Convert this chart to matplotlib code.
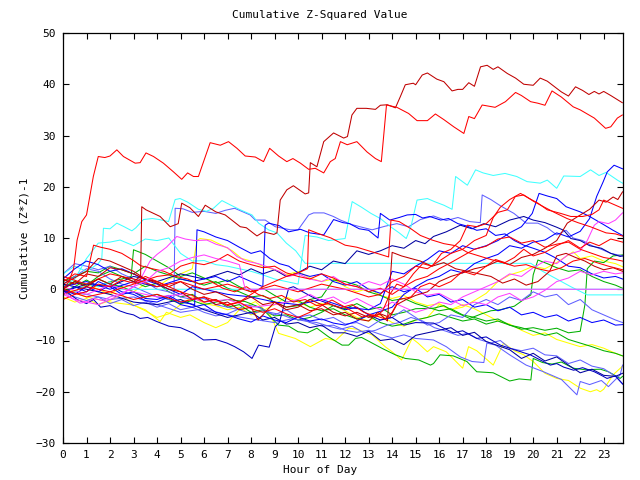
import matplotlib
matplotlib.use("Agg")
import matplotlib.pyplot as plt

# ---------------- data (hour of day, cumulative value) ----------------
h_r1 = [0, 0.25, 0.45, 0.6, 0.8, 1.0, 1.29, 1.5, 1.78, 2.0, 2.29, 2.57, 3.07, 3.28, 3.53, 3.85, 4.27, 4.7, 5.05, 5.3, 5.55, 5.76, 6.26, 6.69, 7.04, 7.4, 7.75, 8.18, 8.53, 8.79, 9.17, 9.52, 9.78, 10.1, 10.45, 10.73, 11.09, 11.37, 11.58, 11.8, 12.09, 12.5, 12.93, 13.29, 13.54, 13.76, 14.2, 14.7, 15.06, 15.5, 15.84, 16.2, 16.62, 17.05, 17.26, 17.5, 17.83, 18.38, 18.82, 19.25, 19.5, 19.89, 20.2, 20.5, 20.8, 21.2, 21.7, 22.0, 22.6, 23.08, 23.3, 23.58, 23.79]
v_r1 = [0, 1.5, 4, 9.6, 13.2, 14.5, 22, 25.9, 25.7, 26, 27.2, 25.9, 24.6, 24.7, 26.6, 25.9, 24.6, 22.9, 21.45, 22.7, 22, 22, 28.6, 28.1, 28.8, 27.5, 26, 25.8, 24.9, 27.5, 26, 24.9, 25.5, 24.6, 23.4, 23.6, 22.7, 24.9, 25.5, 28.8, 28.2, 28.8, 26.8, 25.5, 24.9, 35.95, 35.5, 34.3, 32.9, 32.9, 34.2, 33.1, 31.7, 30.4, 33.7, 33.3, 35.95, 35.5, 36.6, 38.4, 37.8, 36.6, 36.3, 35.9, 38.7, 37.5, 35.6, 35, 33.4, 31.4, 31.7, 33.4, 34]

h_d1 = [0, 0.5, 1, 1.5, 2, 2.5, 3.0, 3.3, 3.35, 3.53, 4.13, 4.56, 4.9, 5.05, 5.4, 5.76, 6.05, 6.5, 6.9, 7.54, 7.8, 8.25, 8.53, 8.97, 9.1, 9.24, 9.52, 9.8, 10.3, 10.45, 10.52, 10.8, 11.09, 11.51, 11.94, 12.1, 12.29, 12.5, 12.9, 13.29, 13.5, 13.8, 14.14, 14.35, 14.56, 14.9, 15.0, 15.28, 15.5, 15.9, 16.2, 16.55, 16.8, 17.0, 17.26, 17.5, 17.76, 18.04, 18.3, 18.5, 18.9, 19.25, 19.6, 20.0, 20.3, 20.6, 20.97, 21.2, 21.5, 21.8, 22.1, 22.37, 22.6, 22.8, 23.0, 23.3, 23.58, 23.79]
v_d1 = [0, 1.5, 0.5, 2, 1, 2.5, 1.5, 2.5, 16.1, 15.5, 14.2, 12.2, 12.8, 16.8, 15.9, 14.2, 16.4, 15.1, 14.5, 12.2, 12, 10.4, 11.2, 10.7, 11, 17.4, 19.4, 20.2, 18.6, 18.8, 24.7, 23.9, 28.8, 30.5, 29.5, 29.8, 34, 35.3, 35.3, 35.1, 35.9, 36, 35.4, 37.6, 39.9, 40.2, 39.9, 41.8, 42.2, 41, 40.5, 38.7, 39, 39, 40.3, 39.6, 43.4, 43.7, 42.9, 43.4, 42.1, 41.2, 40, 39.8, 41.2, 40.6, 39.3, 38.5, 37.7, 39.5, 38.8, 38, 38.6, 38.1, 38.6, 37.8, 37, 36.4]

h_c1 = [0, 0.5, 1.0, 1.5, 1.65, 1.72, 2.0, 2.29, 2.6, 2.93, 3.1, 3.42, 3.8, 4.1, 4.49, 4.77, 4.98, 5.3, 5.76, 6.1, 6.4, 6.76, 7.1, 7.54, 8.04, 8.32, 8.74, 9.1, 9.5, 9.9, 10.3, 19.9, 20.4, 21.0, 21.6, 22.3, 23.8]
v_c1 = [3, 4.5, 3.5, 5, 6, 11.9, 11.8, 12.9, 12.2, 11.4, 12, 13.6, 13.8, 13.6, 13.2, 17.5, 17.7, 17, 15.6, 15.2, 15.8, 17.3, 16.5, 15.5, 14.5, 12.9, 11.6, 11.0, 9, 7.5, 5.06, 5.06, 3.5, 2, 0.5, -1.1, -1.1]

h_c2 = [0, 0.5, 1.0, 1.5, 2.0, 2.43, 3.0, 3.5, 4.0, 4.5, 5.0, 5.5, 6.0, 6.5, 7.0, 7.5, 8.0, 8.5, 9.0, 9.5, 10.0, 10.3, 10.8, 11.3, 12.0, 12.3, 12.7, 13.1, 13.5, 13.93, 14.3, 14.6, 14.8, 15.06, 15.5, 15.8, 16.2, 16.55, 16.7, 17.2, 17.55, 17.87, 18.3, 18.8, 19.3, 19.74, 20.3, 20.6, 21.0, 21.3, 22.0, 22.44, 22.8, 23.1, 23.58, 23.8]
v_c2 = [0.5, 2, 6, 9, 9.2, 9.6, 8.5, 9.8, 9.5, 10, 7, 5.5, 5.6, 4.8, 4.5, 4, 3.5, 2.8, 2, 1.5, 1, 10.5, 10.2, 9.5, 9.9, 17.1, 16, 14.8, 13.8, 12.2, 11, 9.9, 12.2, 17.4, 17.7, 17.1, 16.4, 15.6, 22, 20.3, 23.3, 22.7, 22.2, 22.6, 22, 21, 20.7, 21.3, 19.7, 22.1, 22, 23.3, 22.2, 22.8, 21.3, 20.7]

h_c3 = [0, 0.5, 1.0, 1.5, 2.0, 2.29, 23.8]
v_c3 = [-1, -0.5, 1, 0.5, 1.5, 0, 0]

h_m1 = [0, 0.3, 0.72, 1.0, 1.3, 1.7, 2.0, 2.5, 3.0, 3.5, 4.0, 4.5, 5.0, 5.5, 6.0, 6.5, 7.0, 7.5, 7.75, 23.8]
v_m1 = [-0.5, -1.5, -2.7, -2.5, -1.8, -2.2, -1.5, -0.8, 0.5, 1.5, 3.5, 4.2, 5.5, 6.2, 6.7, 6.0, 5.5, 4.8, 0, 0]

h_lb1 = [0, 0.5, 1.0, 1.5, 2.0, 2.5, 3.0, 3.5, 4.0, 4.5, 4.72, 4.77, 5.1, 5.5, 6.0, 6.5, 6.9, 7.3, 7.96, 8.18, 8.6, 9.03, 9.67, 10.0, 10.45, 10.66, 11.1, 11.5, 11.8, 12.3, 12.8, 13.15, 13.7, 14.2, 14.7, 15.2, 15.76, 16.3, 16.8, 17.3, 17.75, 17.83, 18.2, 18.6, 19.18, 19.7, 20.2, 20.6, 21.0, 21.4, 21.7, 22.1, 22.5, 22.9, 23.3, 23.8]
v_lb1 = [1, 2.5, 4, 3.5, 2, 1, 0.5, -0.5, -1.5, -2, -1.5, 15.8, 15.7, 15, 15.2, 14.8, 15.4, 15.8, 14.5, 13.5, 13.5, 12.2, 11.6, 11.6, 14.5, 14.9, 14.9, 14.2, 13.5, 12.6, 12, 11.6, 12.3, 12.8, 12.2, 13.6, 14.3, 13.4, 14.0, 13.2, 13.0, 18.4, 17.5, 16.3, 14.8, 12.9, 12.9, 12, 10.6, 11.5, 10, 9.5, 8.5, 7.8, 7, 6.5]

h_db1 = [0, 0.3, 0.6, 1.0, 1.3, 1.6, 2.0, 2.4, 2.71, 3.0, 3.28, 3.6, 3.99, 4.5, 5.0, 5.55, 5.98, 6.5, 6.97, 7.3, 7.68, 7.96, 8.04, 8.32, 8.77, 9.03, 9.2, 9.6, 9.8, 10.2, 10.6, 11.0, 11.4, 12.0, 12.5, 13.0, 13.5, 14.0, 14.5, 15.0, 15.76, 16.2, 16.6, 17.0, 17.6, 18.0, 18.6, 19.2, 19.88, 20.3, 20.73, 21.0, 21.3, 21.72, 22.1, 22.6, 22.9, 23.14, 23.5, 23.85]
v_db1 = [0, -1, -2, -2.8, -2, -3.5, -3.2, -4.2, -4.7, -5.0, -5.7, -5.5, -6.3, -7.2, -7.5, -8.6, -9.9, -9.8, -10.5, -11.2, -12.2, -13.2, -13.5, -10.9, -11.3, -7.3, -6.5, 0.2, 0.5, -0.5, -1.5, -2.3, -3, -4, -3.5, -5, -6, -5.5, -7, -6.5, -6.6, -7.6, -8.5, -8.1, -9.6, -9.3, -10.9, -11.8, -12.8, -13.8, -14.8, -14.5, -15.2, -15.8, -15.3, -16.1, -16.8, -17.4, -16.9, -18.7]

h_y1 = [0, 1, 2, 3, 3.5, 4.13, 4.4, 5.0, 5.4, 6, 6.5, 7, 7.5, 8.18, 8.82, 9.17, 9.88, 10.52, 11.16, 11.6, 12.15, 12.5, 13.15, 13.7, 14.0, 14.4, 14.85, 15.1, 15.5, 15.76, 16.3, 17.0, 17.25, 17.6, 18.3, 18.74, 19.2, 19.6, 20.0, 20.5, 21.0, 21.5, 22.0, 22.43, 22.7, 22.85, 23.0, 23.4, 23.8]
v_y1 = [0, -1.5, -2.5, -3.1, -4, -6.3, -4.5, -5.5, -5.0, -6.5, -7.5, -6.5, -4, -2.4, -5, -8.6, -9.6, -11.2, -9.6, -10, -7.6, -7.8, -8.9, -11.2, -12.2, -13.8, -9.6, -10.5, -12.2, -11.2, -12.2, -15.4, -11.2, -12, -14.8, -10.5, -12, -12.8, -14.1, -16.4, -17.4, -17.8, -19.3, -20, -19.6, -20, -19.5, -16.7, -15]

h_g1 = [0, 0.5, 1.0, 1.5, 2.0, 2.5, 3.0, 3.5, 4, 4.5, 5, 5.5, 6, 6.5, 7, 7.75, 8.46, 9.17, 9.6, 10.0, 10.4, 10.8, 11.3, 11.87, 12.15, 12.44, 12.7, 13.15, 13.6, 14.14, 14.56, 15.13, 15.63, 15.76, 16.04, 16.6, 17.18, 17.6, 18.3, 19.0, 19.4, 19.9, 20.0, 20.4, 20.8, 21.2, 21.7, 22.2, 22.86, 23.2, 23.7, 23.8]
v_g1 = [0.5, 1.5, 0.8, 2, 1, 0.5, -0.5, -1.5, -1, -2, -2.8, -2.2, -3, -2.5, -2, -2.4, -3.7, -7, -7.2, -8.3, -8.5, -7.6, -9.3, -10.9, -10.9, -9.6, -9.4, -10.5, -11.6, -12.8, -13.5, -13.8, -14.8, -14.5, -12.8, -13.0, -14.1, -16.1, -16.3, -17.9, -17.5, -17.7, -13.5, -14.3, -14.6, -14.2, -15.4, -15.7, -15.6, -16.1, -17.4, -17.0]

h_lb2 = [0, 1, 2, 3, 4, 5, 6, 7, 8, 9, 10, 10.5, 11, 11.5, 12, 12.5, 13, 13.5, 14, 14.5, 15.0, 15.76, 16.3, 16.9, 17.4, 17.9, 18.03, 18.4, 19.0, 19.7, 20.44, 21.2, 21.86, 22.0, 22.4, 22.9, 23.2, 23.7, 23.8]
v_lb2 = [-0.5, -1, -2, -1.5, -3, -4.5, -3.8, -5, -5.8, -6.5, -5.5, -6.5, -7.2, -7.0, -8, -8.4, -8, -8.8, -9.5, -8.9, -9.6, -9.9, -11.2, -13.2, -14.1, -14.3, -10.5, -10.9, -12.8, -14.8, -16.1, -17.6, -20.6, -18, -18.6, -17.8, -19, -16.7, -14.8]

h_db2 = [0, 1, 2, 3, 4, 5, 6, 7, 8, 8.5, 9, 9.5, 10, 10.5, 11, 11.5, 12, 12.5, 13.0, 13.5, 14, 14.5, 15, 15.5, 16, 16.5, 17, 17.5, 18, 18.5, 19, 19.5, 20, 20.5, 21, 21.5, 22, 22.5, 23, 23.5, 23.8]
v_db2 = [1, 0, -1, -2.5, -3, -2, -4, -5.5, -4.5, -6, -5.5, -6.8, -6.5, -7.5, -7, -8.5, -8.5, -9.2, -8.2, -10, -9.7, -10.8, -9, -8.5, -8, -7.5, -9, -8.4, -10.2, -11, -11.8, -13.5, -12.5, -14, -13.2, -14.8, -16.3, -15.6, -16.8, -17, -16.4]

h_lb3 = [0, 0.5, 1, 1.5, 2, 2.5, 3, 3.5, 4, 4.5, 5, 5.5, 6, 6.5, 7, 7.5, 8, 8.5, 9, 9.5, 10, 10.5, 11, 11.5, 12, 12.5, 13, 13.5, 14, 14.5, 15, 15.5, 16, 16.5, 17, 17.5, 18, 18.5, 19, 19.5, 20, 20.5, 21, 21.5, 22, 22.5, 23, 23.5, 23.8]
v_lb3 = [3, 5, 4.5, 3.8, 4.5, 3, 2, 1.5, 0, -0.5, -1.5, -2, -1.8, -3, -3.5, -4, -4.8, -4.2, -5, -4, -5.5, -5, -6, -5.5, -6.8, -6.5, -7.5, -6, -5.5, -4, -5.5, -7, -6.5, -5, -5.5, -3, -2, -3, -1.5, -2.2, -0.5, -1.5, -1, -3, -2, -4, -5, -6, -6.5]

h_b1 = [0, 0.5, 1, 1.5, 2, 2.5, 3, 3.5, 4, 4.5, 5, 5.5, 6, 6.5, 7, 7.5, 8, 8.5, 9, 9.5, 10, 10.5, 11, 11.5, 12, 12.5, 13, 13.5, 14, 14.5, 15, 15.5, 16, 16.5, 17, 17.5, 18, 18.5, 19, 19.5, 20, 20.5, 21, 21.5, 22.0, 22.4, 22.7, 22.97, 23.15, 23.44, 23.8]
v_b1 = [0, -1, 0.5, -0.5, 0.8, -0.5, -1, -2.2, -2.5, -1.5, -3, -3.5, -3, -4.5, -5, -5.8, -6.4, -5.2, -6, -6.5, -5.4, -6.2, -5.8, -6.6, -7, -6.2, -5, -4.3, -3.5, -1, 0.5, 1.8, 2.5, 3.8, 3.2, 5, 6, 6.8, 8.5, 8, 9.2, 9.6, 11.0, 10.2, 11.3, 13.8, 18.1, 20.9, 22.9, 24.2, 23.5]

h_b2 = [0, 0.5, 1.0, 1.5, 2.0, 2.5, 3, 3.5, 4.0, 4.5, 5.0, 5.5, 6, 7, 8, 9, 10, 11, 12, 13, 13.5, 14, 14.5, 15, 15.5, 16, 16.5, 17, 17.5, 18, 18.5, 19, 19.5, 19.96, 20.25, 20.6, 21.0, 21.4, 22.0, 22.4, 23.0, 23.4, 23.8]
v_b2 = [2, 4, 5.5, 4.8, 3.5, 4, 3, 1.8, 1, 0, -1, 0.5, 0, -1, -1.5, -2.5, -3, -2, -3.5, -4, -2.8, 3.5, 3, 4.5, 5.8, 7.5, 7, 8.5, 7.8, 8.5, 9.5, 11, 12.2, 14.8, 18.7, 18.2, 17.7, 16.1, 15.1, 14.2, 12.6, 11.5, 10.5]

h_b3 = [0, 0.5, 1, 1.5, 2, 2.5, 3, 3.5, 4, 4.5, 5, 5.6, 5.7, 6.0, 6.5, 7.0, 7.5, 8.0, 8.4, 8.8, 9.2, 9.6, 10.0, 10.5, 11.0, 11.5, 12.0, 12.5, 13.0, 13.5, 14, 14.5, 15, 15.5, 16, 16.5, 17, 17.5, 18, 18.5, 19, 19.5, 20, 20.5, 21, 21.5, 22, 22.5, 23, 23.5, 23.8]
v_b3 = [-1, 0.5, -0.5, 1.5, 0.5, -1, -0.5, -1.8, -2, -1.2, -2.5, -3, 11.6, 11.2, 10.2, 9.5, 8.2, 7, 7.5, 6, 5, 4.5, 3.2, 2.5, 3, 1.5, 0.8, 1.5, 0, -0.8, 0.5, -0.5, 0.2, -1.5, -1, -2.5, -2, -3.5, -3, -4.2, -3.5, -5, -4.5, -5.5, -5, -6.2, -5.5, -6.5, -6, -7, -6.9]

h_b4 = [0, 1, 2, 3, 4, 5, 5.5, 6.5, 7, 7.5, 8.0, 8.5, 8.6, 8.74, 9.2, 9.6, 10.1, 10.5, 11.09, 11.51, 11.9, 12.19, 12.6, 13.0, 13.4, 13.5, 13.9, 14.3, 14.64, 15.0, 15.3, 15.6, 16.06, 16.4, 16.8, 17.2, 17.6, 18.0, 18.4, 18.8, 19.2, 19.6, 20.0, 20.5, 21.0, 21.5, 22.0, 22.5, 23.0, 23.5, 23.8]
v_b4 = [0.5, 1.5, 0, 1.5, 0.5, 2, 1.5, 2.5, 1.5, 2.5, 1.5, 0.5, 12.5, 12.9, 12.4, 11.2, 11.7, 11.0, 10.6, 13.6, 13.0, 12.8, 11.8, 11.5, 10, 14.8, 13.5, 14.0, 14.5, 14.6, 13.9, 14.2, 13.5, 13.8, 12.8, 12.3, 11.5, 11.8, 10.5, 10.8, 9.5, 8.6, 8.0, 7.2, 6.0, 4.5, 4.2, 3, 2.2, 2.5, 2.0]

h_db3 = [0, 1, 2, 3, 4, 5, 6, 7, 7.5, 8, 8.5, 9, 9.5, 10, 10.5, 11, 11.5, 12, 12.5, 13, 13.5, 14, 14.5, 15.0, 15.4, 15.76, 16.3, 16.9, 17.4, 17.9, 18.4, 19.0, 19.6, 20.0, 20.5, 21.0, 21.3, 21.6, 22.0, 22.4, 22.9, 23.3, 23.7, 23.8]
v_db3 = [-0.5, 1, 0.5, 2.5, 1.5, 3, 2, 3.5, 2.8, 4, 3, 3.8, 2.5, 3.2, 4.5, 3.8, 5.5, 5, 7.5, 6.8, 7.5, 8.5, 8, 9.5, 8.9, 10.3, 11.2, 12.5, 11.8, 12.8, 12.2, 13.5, 14.2, 13.5, 13.0, 12.1, 11.5, 9.9, 9.5, 8.5, 8.0, 7.0, 6.4, 6.5]

h_r2 = [0, 0.5, 1.0, 1.3, 1.6, 2.0, 2.5, 3.0, 3.3, 3.8, 4.3, 4.8, 5.3, 5.8, 6.3, 6.8, 7.3, 7.8, 8.3, 8.8, 9.3, 9.8, 10.3, 10.8, 11.3, 11.8, 12.3, 12.8, 13.3, 13.6, 13.9, 14.2, 14.5, 14.9, 15.3, 15.7, 16.1, 16.5, 16.9, 17.2, 17.6, 18.0, 18.5, 18.9, 19.24, 19.6, 20.0, 20.44, 20.9, 21.44, 21.9, 22.43, 23.1, 23.5, 23.85]
v_r2 = [1.5, 3.0, 2.5, 8.6, 8.2, 7.8, 7, 5.6, 4.6, 4.0, 3.5, 2.5, 2.0, 1, 1.5, 0.2, -0.5, 0.5, -1, -1.8, -1.2, -2.5, -2, -3.2, -2.8, -3.6, -3, -4.5, -5.3, -4.2, -1, 1, 0.5, 3, 5.0, 4.5, 7.0, 7.8, 9.5, 12.5, 12.2, 12.8, 15, 15.5, 18.1, 18.4, 17.2, 16.1, 15.0, 13.8, 13, 12.2, 11.0, 10.8, 10.3]

h_r3 = [0, 1, 2, 3, 4, 5, 6, 7, 8, 9, 10, 11, 12, 13, 13.5, 14, 14.5, 15, 15.5, 16, 16.5, 17.0, 17.5, 18.0, 18.3, 18.6, 19.0, 19.46, 19.8, 20.2, 20.6, 21.17, 21.6, 22.1, 22.5, 22.8, 23.0, 23.4, 23.8]
v_r3 = [2.5, 1, 3, 2, 0.5, 1.5, 0, 1, -0.5, 0.8, -0.5, 1, 0, -1.5, -1, 1.5, 2.5, 4.5, 4, 5.5, 7.0, 7.8, 9.5, 10.5, 14, 16, 17.5, 18.7, 17.8, 16.8, 15.5, 14.8, 14.2, 14.2, 14.6, 15.5, 17.4, 16.6, 15.8]

h_d2 = [0, 1, 1.5, 2, 2.5, 3, 3.5, 4, 4.5, 5, 5.5, 6, 6.5, 7, 7.5, 8, 8.5, 9, 9.5, 10, 10.5, 11, 11.5, 12, 12.5, 13, 13.5, 13.9, 14.2, 14.6, 15.0, 15.5, 16.0, 16.5, 17.0, 17.5, 18.0, 18.5, 19.0, 19.5, 20.0, 20.5, 21.0, 21.45, 21.9, 22.4, 22.8, 23.1, 23.4, 23.6, 23.8]
v_d2 = [1, 3.5, 6, 5.5, 4.5, 3.5, 2, 1.5, 0.5, 1.5, 0, -1, -0.5, -1.5, -2.5, -1.5, -3, -2.5, -4, -3.5, -2, -3, -4.5, -5.2, -4.5, -5.5, -4.8, -5.5, -3, -2, -1.2, -0.5, 1.5, 2.5, 3.2, 4.0, 4.5, 5.5, 4.8, 6.2, 6.8, 8.0, 9.5, 12.9, 14.2, 15.6, 17.4, 17, 18, 17.5, 19]

h_r4 = [0, 1, 2, 3, 4, 4.5, 5, 5.5, 6, 6.5, 7, 7.5, 8, 8.5, 9, 9.5, 10, 10.5, 11, 11.5, 12, 12.5, 13, 13.5, 14, 14.5, 15, 15.5, 16, 16.5, 17, 17.5, 18, 18.5, 19, 19.5, 20, 20.5, 21, 21.5, 22, 22.5, 23, 23.5, 23.8]
v_r4 = [-1, 0.5, -0.5, 1.0, 2.5, 2.8, 4.5, 5.2, 4.8, 5.5, 6.8, 5.5, 4.8, 4.2, 4.5, 3.2, 2.5, 2.0, 3.0, 2.2, 1, 0.5, -0.5, 0.2, -1, 0.5, 1.8, 2.5, 4, 5.2, 6.5, 7.8, 8.4, 9.8, 10.2, 9, 9.5, 8.2, 8.8, 9.2, 7.8, 7, 6.2, 5.8, 5.5]

h_r5 = [0, 1, 2, 3, 4, 5, 6, 7, 7.5, 8, 8.5, 9, 9.5, 10, 10.4, 10.45, 10.9, 11.4, 12.0, 12.5, 13.0, 13.57, 13.85, 13.95, 14.3, 14.8, 15.2, 15.7, 16.2, 16.7, 17.2, 17.7, 18.2, 18.7, 19.2, 19.7, 20.2, 20.7, 21.2, 21.7, 22.2, 22.7, 23.2, 23.8]
v_r5 = [0, -1.5, -0.5, -2, -1, -2.5, -1.5, -3, -2.5, -1, 0.5, 1.5, 2.5, 3.2, 4, 11.6, 10.8, 10, 8.6, 8.2, 7.5, 6.7, 6.3, 13.5, 13.2, 11.8, 10.5, 9.6, 8.9, 8.5, 7.2, 6.5, 5.8, 5.2, 4.5, 4.8, 4.0, 3.5, 4.2, 5.5, 6.0, 5.2, 4.5, 3.8]

h_m2 = [0, 0.5, 1, 1.5, 2, 2.5, 3, 3.3, 3.7, 4.0, 4.4, 4.84, 5.2, 5.6, 6.12, 6.5, 7.0, 7.4, 7.8, 8.3, 8.8, 9.2, 9.6, 10.0, 10.5, 11.0, 11.5, 12.0, 12.5, 13.0, 13.5, 14.0, 14.5, 15.0, 15.5, 16.0, 16.5, 17.0, 17.5, 18.0, 18.5, 19.0, 19.5, 20.0, 20.5, 21.0, 21.5, 22.0, 22.5, 23.0, 23.5, 23.8]
v_m2 = [-1, -2, -2.5, -3, -2, -1, 0.5, 2, 5.5, 6.8, 8.2, 10.3, 9.8, 9.5, 9.6, 8.8, 8.1, 6.4, 5.5, 5.0, 4.2, 3.5, 2.5, 3.0, 2.0, 1.5, 2.5, 1.0, 0.5, 1.5, 0.8, 2.0, 1.0, -0.5, -1.2, -0.8, -2.0, -3.2, -2.5, -3.0, -1.5, -0.8, -2.2, -1.5, -0.2, 1.5, 2.2, 3.5, 2.8, 3.5, 3.0, 3.2]

h_m3 = [0, 1, 2, 3, 4, 5, 6, 7, 8, 9, 10, 10.5, 11, 11.5, 12, 12.5, 13, 13.5, 14, 14.5, 15, 15.5, 16, 16.5, 17, 17.5, 18.0, 18.5, 19.0, 19.5, 20.0, 20.5, 21.0, 21.5, 22.0, 22.3, 22.6, 22.8, 23.2, 23.5, 23.8]
v_m3 = [0.5, -1, 0.8, -0.5, -1.5, -1, -2.5, -2, -3.5, -3, -2, -1, -2.2, -1.5, -2.8, -1.8, -3, -4, -2.5, -3.5, -4.5, -3.8, -2.5, -3, -1.5, -0.5, 0.5, 1.5, 3, 2.5, 4.2, 5.5, 5.0, 6.8, 7.5, 9.5, 12.5, 13.2, 12.8, 13.5, 14.9]

h_g2 = [0, 0.5, 1, 1.5, 2, 2.5, 3, 3.5, 4, 4.5, 5, 5.5, 6, 6.5, 7, 7.5, 8, 8.5, 9, 9.5, 10, 10.5, 11, 11.5, 12, 12.5, 13, 13.5, 14, 14.5, 15, 15.76, 16.2, 16.7, 17.3, 17.8, 18.2, 18.6, 19.2, 19.6, 19.9, 20.0, 20.2, 20.6, 21.0, 21.5, 22.0, 22.5, 23.0, 23.5, 23.8]
v_g2 = [0, 1.5, 0.8, 2.5, 3.5, 2.5, 1.5, 0.5, 1.2, -0.5, -1.5, -1, -2.5, -2, -3.5, -3, -4.5, -4, -5.2, -5, -6, -5.5, -4.5, -3.2, -3.8, -2.8, -4, -3.5, -5, -4.5, -3.8, -3.7, -3.2, -4.5, -5.7, -4.8, -4.2, -4.0, -3.3, -2.0, -1.1, 2.8, 5.7, 5.0, 4.2, 3.5, 3.8, 2.5, 1.5, 0.8, 0.2]

h_g3 = [0, 0.5, 1, 1.5, 2, 2.5, 2.9, 3.0, 3.5, 4.0, 4.5, 5.0, 5.5, 6.0, 6.5, 7.0, 7.5, 8.0, 8.5, 9.0, 9.5, 10.0, 10.5, 11.0, 11.5, 12.0, 12.5, 13.0, 13.5, 14.0, 14.5, 15.0, 15.5, 16.0, 16.5, 17.0, 17.5, 18.0, 18.5, 19.0, 19.5, 20.0, 20.5, 21.0, 21.5, 22.0, 22.2, 22.3, 22.6, 23.0, 23.4, 23.8]
v_g3 = [-0.5, 0.5, 1.8, 0.5, 1.5, 2.0, 2.5, 7.7, 6.8, 5.5, 4.2, 2.5, 3.2, 2.2, 1.2, 1.8, 0.5, -0.5, 0.2, -1.2, -2.5, -2.2, -3.5, -4.2, -3.8, -5, -5.8, -5.2, -6.5, -7.2, -6.8, -6.0, -5.5, -4.8, -5.5, -6.2, -5.8, -6.8, -6.2, -7.0, -7.8, -7.5, -8, -7.6, -8.5, -8.2, -3, 4, 5.5, 5.2, 6.5, 6.7]

h_g4 = [0, 0.5, 1, 1.5, 2, 2.5, 3, 3.5, 4, 4.5, 5, 5.5, 6, 6.5, 7, 7.5, 8, 8.5, 9, 9.5, 10, 10.5, 11, 11.5, 12, 12.5, 13, 13.5, 14, 14.5, 15, 15.5, 16, 16.5, 17, 17.5, 18, 18.5, 19, 19.5, 20, 20.5, 21, 21.5, 22, 22.5, 23, 23.5, 23.8]
v_g4 = [1.5, 2.5, 3.5, 3.2, 4.5, 3.8, 3, 4.5, 3.5, 2.8, 2, 1.5, 0.8, 1.5, 0.2, -0.5, -1.5, -1.2, -2.5, -3.5, -3.2, -2, -1.5, 1.8, 1.5, 0.8, -0.5, -1.2, -2.2, -1.8, -2.8, -3.5, -4.2, -3.8, -5, -5.5, -6.2, -5.8, -7, -7.5, -8.2, -9, -8.5, -9.8, -10.5, -11.2, -12, -12.5, -13]

h_y2 = [0, 0.5, 1, 1.5, 2, 2.5, 3, 3.5, 4, 4.5, 5.0, 5.5, 5.7, 5.83, 6.3, 6.8, 7.2, 7.6, 8.0, 8.5, 9, 9.5, 10, 10.5, 11, 11.5, 12, 12.5, 13, 13.5, 14, 14.5, 15, 15.5, 16, 16.5, 17, 17.5, 18, 18.5, 19, 19.5, 20, 20.5, 21, 21.7, 22, 22.5, 23, 23.5, 23.8]
v_y2 = [0.5, -0.5, 1.0, 0, -1, 0.5, -0.5, 1, 0.5, 2, 3, 4, 9.5, 9.9, 9.6, 8.5, 7.5, 6.0, 5.5, 4.5, 3.8, 2.8, 3.5, 2.2, 1.5, 2.0, 0.5, -0.5, 0.2, -1.2, -1.8, -1.2, -2.5, -3.2, -2.8, -4, -3.5, -2.2, -0.8, 1.5, 2.8, 3.5, 4.5, 4.0, 5.2, 7.3, 6.0, 6.5, 5.5, 5.0, 4.4]

h_y3 = [0, 0.5, 1, 1.5, 2, 2.5, 3, 3.5, 4, 4.5, 5, 5.5, 6, 6.5, 7, 7.5, 8, 8.5, 9, 9.5, 10, 10.5, 11, 11.5, 12, 12.5, 13, 13.5, 14, 14.5, 15, 15.5, 16, 16.5, 17, 17.5, 18, 18.5, 19, 19.5, 20, 20.5, 21, 21.5, 22, 22.5, 23, 23.5, 23.8]
v_y3 = [-1.5, -2.5, -1.8, -3, -2.2, -1, -3.1, -4.2, -5.5, -4.8, -3, -1.5, -2.8, -3.2, -4.0, -3.5, -5, -4.2, -3, -1.5, -2.5, -3.5, -2.8, -3.2, -4.2, -5.5, -6.2, -5, -6.5, -7.2, -6, -5.5, -3, -4, -3, -3.8, -5, -6.2, -6.8, -8, -9, -8.5, -9.8, -10.5, -11.2, -10.8, -11.5, -12.5, -13]

h_d3 = [0, 0.5, 1, 1.5, 2, 2.5, 3, 3.5, 4, 4.5, 5, 5.5, 6, 6.5, 7, 7.5, 8, 8.3, 8.6, 9, 9.5, 10, 10.5, 11, 11.5, 12, 12.5, 13, 13.4, 13.8, 14.0, 14.4, 14.8, 15.2, 15.7, 16.2, 16.7, 17.2, 17.7, 18.2, 18.7, 19.2, 19.7, 20.2, 20.7, 21.0, 21.4, 21.8, 22.2, 22.6, 23.0, 23.4, 23.8]
v_d3 = [2, 1, 3, 2.5, 4.2, 3.8, 3, 2, 1.2, 0, -0.5, -2, -1.5, -3, -2.5, -4, -3.5, -6, -4.5, -2.5, -3.5, -3, -4.2, -3.8, -5, -4.5, -5.8, -6.2, -4.5, -6.2, 7.2, 6.5, 6.0, 5.5, 4.5, 5.2, 4.0, 3.5, 3.0, 2.5, 1.2, 2.0, 0.8, 1.5, 3.5, 6.5, 7.0, 6.2, 5.5, 4.5, 3.8, 4.2, 3.5]

h_r6 = [0, 0.5, 1, 1.5, 2, 2.5, 3, 3.5, 4, 4.5, 5, 5.5, 6, 6.5, 7, 7.5, 8, 8.5, 9, 9.5, 10, 10.5, 11, 11.44, 12, 12.72, 13.2, 13.7, 14.0, 14.3, 14.8, 15.2, 15.6, 16.0, 16.5, 17.0, 17.5, 18.0, 18.4, 18.8, 19.2, 19.6, 20.0, 20.5, 21.0, 21.5, 22.0, 22.4, 22.8, 23.3, 23.8]
v_r6 = [-2, -1, -0.5, 1, 0.5, 1.8, 1.2, 2.5, 1.5, 0.5, -0.5, -1.2, -2.5, -2, -3.2, -2.5, -3.8, -4.5, -3.8, -4.8, -5.5, -4.5, -3.2, -2.1, -3.5, -5.4, -5, -5.8, -4.5, -2, -1.5, 0.5, 1.2, 0.5, 1.5, 3.5, 2.8, 4.5, 5.8, 5.2, 6.2, 7.8, 6.5, 7.2, 8.5, 9.5, 8.0, 9.2, 8.5, 9.8, 9.2]

h_lb4 = [0, 0.5, 1, 1.5, 2, 2.5, 3, 3.5, 4, 4.5, 5, 5.5, 6, 6.5, 7, 7.5, 7.75, 8.3, 8.8, 9.3, 9.8, 10.3, 10.8, 11.3, 11.8, 12.3, 12.8, 13.3, 13.8, 14.3, 14.8, 15.3, 15.8, 16.3, 16.8, 17.2, 17.7, 18.2, 18.6, 19.0, 19.5, 20.0, 20.5, 21.0, 21.5, 22.0, 22.5, 23.0, 23.5, 23.8]
v_lb4 = [-0.5, -1.5, -2.2, -1.5, -2.8, -2, -3.2, -2.5, -3.5, -2.8, -4, -3.5, -4.5, -5.2, -4.8, -3.8, -3, -3.5, -4.5, -5.0, -5.8, -6.2, -6.5, -7.2, -7.8, -7.2, -8.5, -8, -7, -6.5, -5.5, -6.2, -7.5, -8.2, -9, -8.6, -9.8, -10.5, -10.0, -11.5, -12, -11.5, -12.8, -13, -14.5, -13.8, -15, -15.5, -17, -18.5]

SERIES = [
    (h_y3, v_y3, '#ffff00'), (h_y1, v_y1, '#ffff00'), (h_y2, v_y2, '#ffff00'),
    (h_g4, v_g4, '#00b000'), (h_g1, v_g1, '#00b000'), (h_g2, v_g2, '#00b000'), (h_g3, v_g3, '#00b000'),
    (h_lb4, v_lb4, '#6060ff'), (h_lb2, v_lb2, '#6060ff'), (h_lb3, v_lb3, '#6060ff'), (h_lb1, v_lb1, '#6060ff'),
    (h_c3, v_c3, '#40ffff'), (h_c1, v_c1, '#40ffff'), (h_c2, v_c2, '#40ffff'),
    (h_db2, v_db2, '#0000a0'), (h_db1, v_db1, '#0000c0'), (h_db3, v_db3, '#0000a0'),
    (h_b3, v_b3, '#0000ff'), (h_b4, v_b4, '#0000ff'), (h_b2, v_b2, '#0000ff'), (h_b1, v_b1, '#0000ff'),
    (h_m2, v_m2, '#ff40ff'), (h_m3, v_m3, '#ff40ff'),
    (h_d3, v_d3, '#c00000'), (h_d2, v_d2, '#c00000'), (h_r6, v_r6, '#ff0000'),
    (h_r5, v_r5, '#ff0000'), (h_r4, v_r4, '#ff0000'), (h_r3, v_r3, '#ff0000'), (h_r2, v_r2, '#ff0000'),
    (h_m1, v_m1, '#ff40ff'),
    (h_d1, v_d1, '#c00000'), (h_r1, v_r1, '#ff0000'),
]

x_ticks = list(range(0, 24))
y_ticks = list(range(-30, 51, 10))

# ---------------- figure ----------------
plt.rcParams['font.family'] = ['DejaVu Sans Mono']
fig = plt.figure(figsize=(6.4, 4.8), dpi=100)
ax = fig.add_axes([63/640, 1-443/480, 560/640, 410/480])
for hh, vv, col in SERIES:
    ax.plot(hh, vv, color=col, lw=0.75, antialiased=True)

ax.set_xlim(0, 23.82)
ax.set_ylim(-30, 50)
ax.set_xticks(x_ticks)
ax.set_yticks(y_ticks)
ax.tick_params(direction='in', length=4, width=0.8, top=True, right=True,
               labelsize=8, pad=5)
for s in ax.spines.values():
    s.set_linewidth(0.9)
fig.text(0.5, 1-15/480, 'Cumulative Z-Squared Value', ha='center', va='center', fontsize=8)
fig.text(0.5, 1-470/480, 'Hour of Day', ha='center', va='center', fontsize=8)
fig.text(25/640, 1-238/480, 'Cumulative (Z*Z)-1', ha='center', va='center', rotation=90, fontsize=8)

fig.savefig('out.png', dpi=100)
